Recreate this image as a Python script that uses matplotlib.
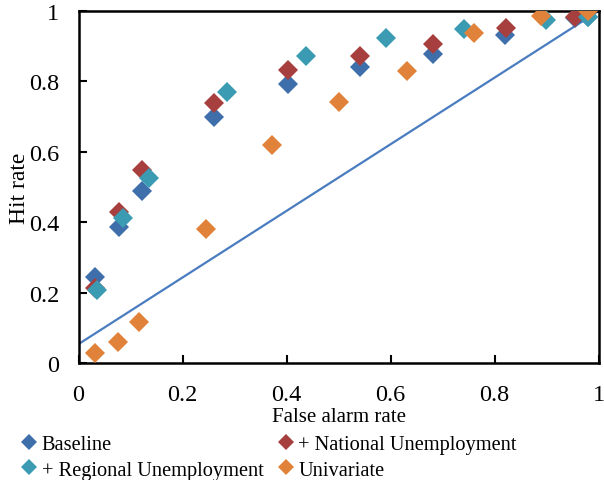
import matplotlib.pyplot as plt
from matplotlib.lines import Line2D

plt.rcParams['font.family'] = ['Liberation Serif', 'DejaVu Serif']

# ROC points for each model
base_fa = [0.032, 0.077, 0.123, 0.261, 0.402, 0.541, 0.681, 0.821, 0.955, 0.980]
base_hit = [0.244, 0.388, 0.490, 0.700, 0.793, 0.840, 0.878, 0.932, 0.980, 0.984]

nat_fa = [0.032, 0.077, 0.122, 0.261, 0.402, 0.541, 0.681, 0.822, 0.955]
nat_hit = [0.213, 0.430, 0.549, 0.738, 0.832, 0.873, 0.906, 0.951, 0.982]

reg_fa = [0.035, 0.085, 0.136, 0.286, 0.438, 0.591, 0.742, 0.899, 0.980]
reg_hit = [0.207, 0.411, 0.526, 0.769, 0.871, 0.922, 0.949, 0.975, 0.984]

uni_fa = [0.032, 0.075, 0.117, 0.245, 0.373, 0.501, 0.631, 0.761, 0.889, 0.980]
uni_hit = [0.030, 0.060, 0.118, 0.381, 0.620, 0.742, 0.829, 0.939, 0.985, 1.000]

# straight reference line
line_x = [0, 1]
line_y = [0.054, 1.0]

c_base = '#3f6fab'
c_nat = '#a83f3f'
c_reg = '#3a9bb2'
c_uni = '#e0823a'

fig = plt.figure(figsize=(6.04, 4.81), dpi=100)
ax = fig.add_axes([0.130, 0.243, 0.861, 0.732])

ax.plot(line_x, line_y, color='#4a7cc0', lw=1.6, zorder=1)

ms = 10.5
ax.plot(base_fa, base_hit, 'D', color=c_base, ms=ms, mew=0, zorder=2)
ax.plot(nat_fa, nat_hit, 'D', color=c_nat, ms=ms, mew=0, zorder=3)
ax.plot(reg_fa, reg_hit, 'D', color=c_reg, ms=ms, mew=0, zorder=4)
ax.plot(uni_fa, uni_hit, 'D', color=c_uni, ms=ms, mew=0, zorder=5)

ax.set_xlim(0, 1)
ax.set_ylim(0, 1)
ticks = [0, 0.2, 0.4, 0.6, 0.8, 1]
tick_labels = ['0', '0.2', '0.4', '0.6', '0.8', '1']
ax.set_xticks(ticks)
ax.set_xticklabels(tick_labels)
ax.set_yticks(ticks)
ax.set_yticklabels(tick_labels)
ax.tick_params(direction='in', length=6, width=1.5, labelsize=17.5)
ax.tick_params(axis='x', pad=15)
ax.tick_params(axis='y', pad=14)
for s in ax.spines.values():
    s.set_linewidth(1.8)
ax.set_xlabel('False alarm rate', fontsize=15, labelpad=1.5)
ax.set_ylabel('Hit rate', fontsize=17, labelpad=-1)

handles = [
    Line2D([], [], ls='', marker='D', color=c_base, ms=8.5, mew=0, label='Baseline'),
    Line2D([], [], ls='', marker='D', color=c_reg, ms=8.5, mew=0, label='+ Regional Unemployment'),
    Line2D([], [], ls='', marker='D', color=c_nat, ms=8.5, mew=0, label='+ National Unemployment'),
    Line2D([], [], ls='', marker='D', color=c_uni, ms=8.5, mew=0, label='Univariate'),
]
fig.legend(handles=handles, ncol=2, loc='lower left', bbox_to_anchor=(0.025, -0.016),
           frameon=False, fontsize=14.7, handlelength=0.6, handletextpad=0.3,
           columnspacing=0.8, labelspacing=0.3, borderaxespad=0)

fig.savefig('out.png', dpi=100)
